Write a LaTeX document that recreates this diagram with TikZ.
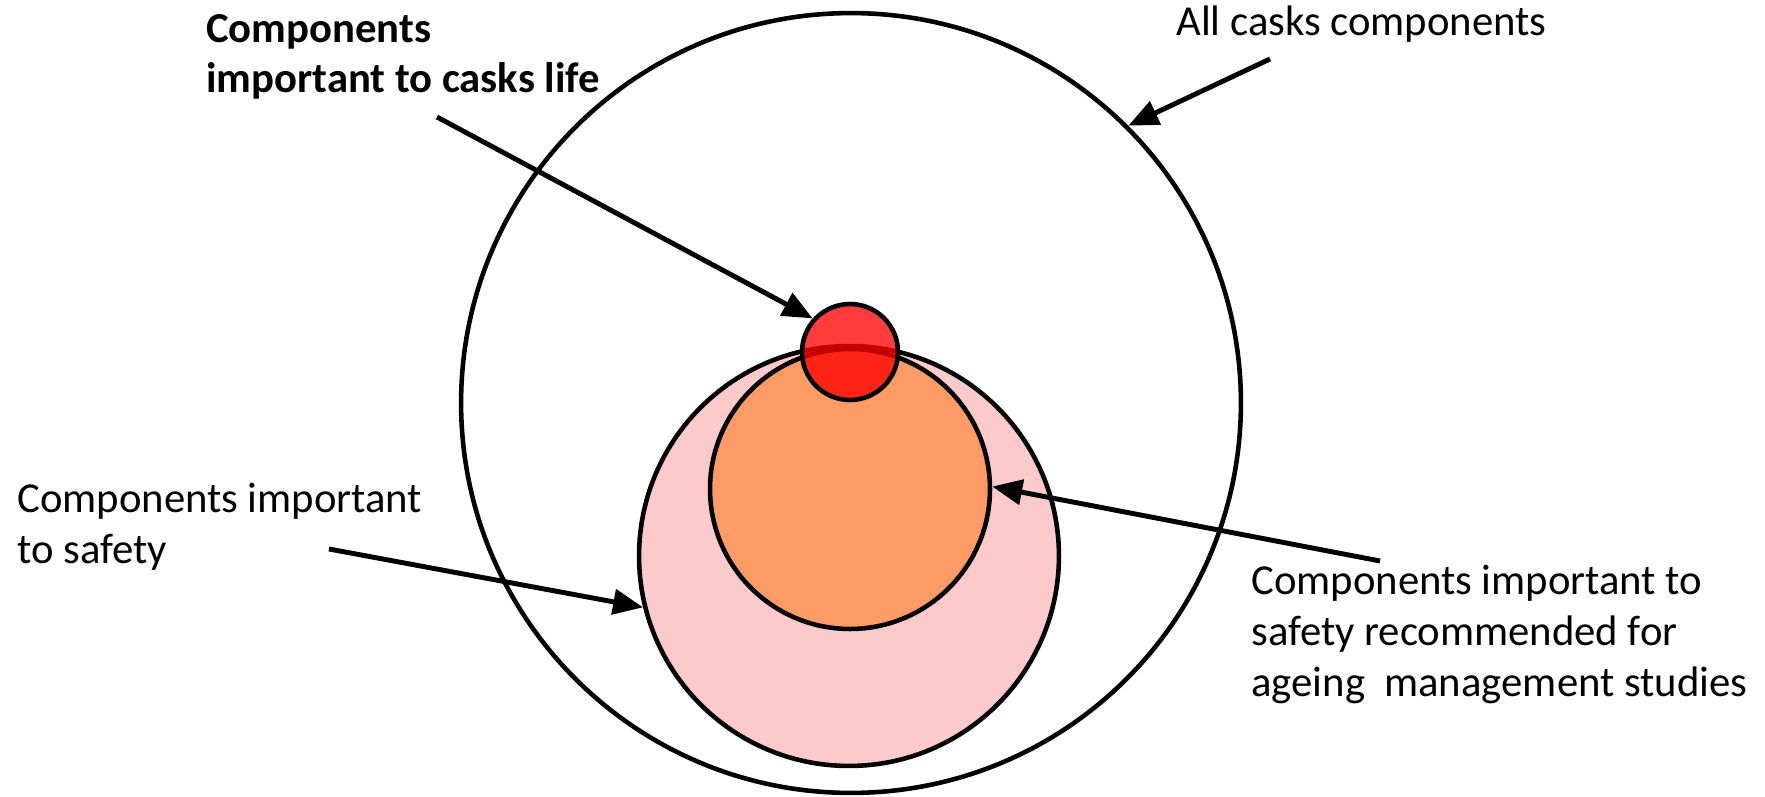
\documentclass[tikz,border=0pt]{standalone}
\usepackage{fontspec}
\setmainfont{Carlito}
\usetikzlibrary{arrows.meta}
\definecolor{pinkfill}{RGB}{252,202,202}
\definecolor{orangefill}{RGB}{253,155,103}

\begin{document}
\begin{tikzpicture}[x=0.02cm,y=-0.02cm,
  ring/.style={circle,draw=black,line width=2.6pt,inner sep=0pt},
  ptr/.style={-{Triangle[length=6mm,width=5mm]},line width=2.8pt},
  lab/.style={font=\fontsize{24.3}{29}\selectfont,align=left,inner sep=0pt,anchor=base west}]
  \useasboundingbox (0,0) rectangle (1765,797);
  % ---------- nested sets of components ----------
  \node[ring,minimum size=15.6cm] (all) at (851,403) {};
  \node[ring,fill=pinkfill,minimum size=8.4cm] (safe) at (849,556) {};
  \node[ring,fill=orangefill,minimum size=5.6cm] (amr) at (850,489) {};
  \node[ring,fill=red,fill opacity=0.77,minimum size=1.92cm] (life) at (850,352) {};
  % ---------- labels (anchored on the last line) ----------
  \node[lab,font=\fontsize{24.3}{29}\selectfont\bfseries] (tlife) at (206,93) {Components\\important to casks life};
  \node[lab] (tall) at (1176,36) {All casks components};
  \node[lab] (tsafe) at (17,563) {Components important\\to safety};
  \node[lab] (tamr) at (1251,696) {Components important to\\safety recommended for\\ageing\ \ management studies};
  % ---------- pointers ----------
  \coordinate (slife) at (437,117);
  \coordinate (sall) at (1270,59);
  \coordinate (ssafe) at (329,549);
  \coordinate (samr) at (1380,561);
  \draw[ptr] (slife) -- (life.138);
  \draw[ptr] (sall) -- (all.45);
  \draw[ptr] (ssafe) -- (safe.194);
  \draw[ptr] (samr) -- (amr.1);
\end{tikzpicture}
\end{document}
